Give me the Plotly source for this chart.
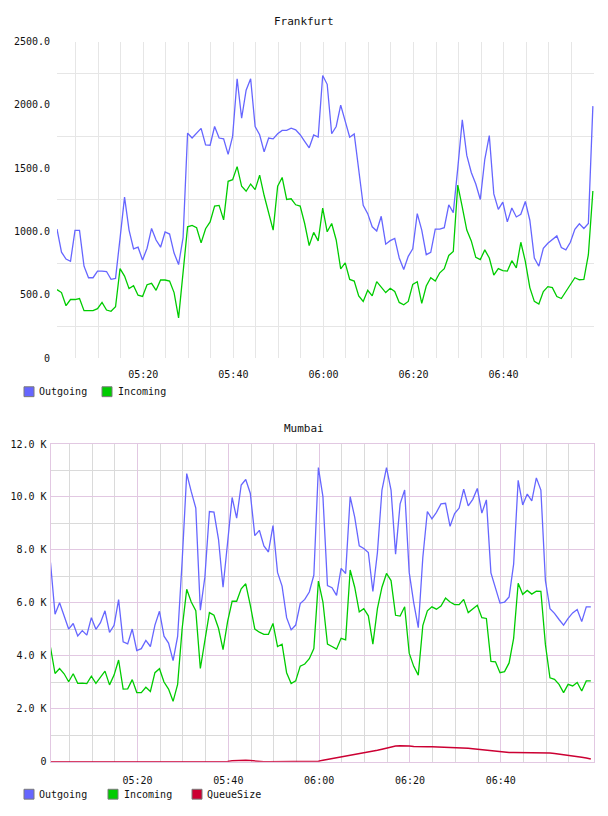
import plotly.graph_objects as go
import pandas as pd

# ---------------- data ----------------
start_time = "2013-05-01 05:00:50"

fra_outgoing = [1019, 837, 783, 765, 1009, 1009, 726, 635, 635, 687, 687, 684, 622, 630, 946, 1271, 1011, 863, 876, 775,
                868, 1024, 933, 876, 996, 980, 830, 739, 952, 1777, 1738, 1777, 1814, 1684, 1681, 1829, 1738, 1731, 1609, 1751,
                2206, 1894, 2115, 2206, 1829, 1764, 1629, 1738, 1731, 1772, 1798, 1798, 1816, 1803, 1764, 1712, 1661, 1762, 1746, 2232,
                2162, 1772, 1829, 1998, 1876, 1744, 1770, 1492, 1206, 1141, 1037, 1004, 1120, 900, 928, 946, 791, 700, 804, 863,
                1141, 1011, 817, 835, 1019, 1019, 1030, 1211, 1149, 1500, 1881, 1601, 1466, 1375, 1253, 1570, 1757, 1297, 1175, 1232,
                1076, 1185, 1115, 1136, 1237, 1089, 791, 726, 868, 907, 933, 965, 874, 855, 915, 1017, 1061, 1024, 1063, 1990]
fra_incoming = [541, 518, 414, 463, 463, 471, 375, 375, 375, 391, 440, 380, 370, 406, 707, 648, 549, 572, 497, 487,
                580, 591, 536, 617, 617, 609, 518, 318, 674, 1037, 1048, 1030, 910, 1022, 1076, 1201, 1206, 1092, 1396, 1409,
                1512, 1357, 1318, 1375, 1331, 1445, 1284, 1141, 1011, 1357, 1427, 1253, 1258, 1211, 1201, 1063, 889, 993, 926, 1185,
                998, 1063, 933, 705, 752, 622, 609, 492, 448, 536, 492, 604, 557, 518, 552, 526, 440, 422, 448, 583,
                604, 432, 570, 635, 609, 674, 707, 811, 842, 1367, 1193, 1011, 926, 796, 778, 855, 791, 655, 707, 692,
                687, 770, 713, 915, 765, 557, 448, 427, 526, 565, 557, 487, 471, 526, 583, 635, 619, 622, 817, 1320]

mum_outgoing = [7520, 5570, 6000, 5530, 5010, 5220, 4750, 4950, 4780, 5440, 5000, 5250, 5700, 4880, 5150, 6120, 4530, 4450, 5010, 4200,
                4270, 4580, 4350, 5160, 5680, 4740, 4480, 3820, 4730, 7600, 10880, 10200, 9580, 5720, 6970, 9450, 9430, 8400, 6590, 8270,
                9980, 9200, 10450, 10660, 10140, 8540, 8740, 8150, 7920, 8920, 7150, 6630, 5440, 4980, 5160, 5970, 6130, 6410, 7050, 11110,
                10010, 6650, 6570, 6280, 7300, 7110, 10010, 9240, 8150, 8050, 7900, 6430, 7900, 10260, 11110, 10260, 7840, 9740, 10260, 7150,
                6000, 5060, 7710, 9450, 9170, 9420, 9740, 9760, 8890, 9370, 9580, 10290, 9660, 9910, 10320, 9390, 9890, 7130, 6530, 5990,
                6030, 6220, 7460, 10630, 9700, 10110, 9850, 10720, 10260, 6840, 5780, 5600, 5370, 5160, 5410, 5620, 5750, 5290, 5850, 5850]
mum_incoming = [4320, 3330, 3520, 3320, 3020, 3320, 2960, 2970, 2950, 3230, 2960, 3200, 3420, 2900, 3270, 3840, 2740, 2750, 3100, 2610,
                2610, 2810, 2650, 3360, 3510, 3010, 2740, 2280, 2920, 5040, 6510, 6030, 5700, 3520, 4600, 5630, 5530, 5040, 4230, 5290,
                6060, 6060, 6530, 6720, 5910, 5010, 4890, 4810, 4810, 5220, 4350, 4440, 3360, 2950, 3050, 3610, 3690, 3890, 4270, 6820,
                6030, 4440, 4350, 4250, 4660, 4600, 7240, 6590, 5660, 5780, 5510, 4440, 5780, 6590, 7110, 6840, 5530, 5500, 5850, 4100,
                3600, 3270, 5140, 5700, 5850, 5760, 5880, 6180, 6030, 5930, 5930, 6130, 5630, 5780, 5910, 5440, 5410, 3790, 3770, 3360,
                3400, 3730, 4660, 6740, 6320, 6470, 6330, 6440, 6430, 4420, 3170, 3110, 2920, 2610, 2920, 2860, 2990, 2670, 3050, 3050]
mum_queue = [0, 0, 0, 0, 0, 0, 0, 0, 0, 0, 0, 0, 0, 0, 0, 0, 0, 0, 0, 0,
             0, 0, 0, 0, 0, 0, 0, 0, 0, 0, 0, 0, 0, 0, 0, 0, 0, 0, 0, 10,
             30, 40, 50, 50, 40, 20, 10, 0, 0, 0, 0, 0, 0, 0, 0, 0, 0, 0, 0, 20,
             50, 80, 110, 140, 170, 200, 230, 260, 290, 320, 350, 390, 430, 470, 510, 550, 590, 600, 600, 590,
             570, 560, 560, 560, 560, 555, 550, 550, 550, 545, 540, 530, 510, 490, 470, 450, 430, 400, 380, 360,
             350, 345, 345, 345, 345, 345, 345, 345, 345, 340, 330, 310, 290, 270, 250, 230, 200, 170, 140, 100]

x_tick_labels = ["05:20", "05:40", "06:00", "06:20", "06:40"]
fra_y_ticks = [0, 500, 1000, 1500, 2000, 2500]
fra_y_labels = ["0", "500.0", "1000.0", "1500.0", "2000.0", "2500.0"]
fra_y_minor = [250, 750, 1250, 1750, 2250]
mum_y_ticks = [0, 2000, 4000, 6000, 8000, 10000, 12000]
mum_y_labels = ["0", "2.0 K", "4.0 K", "6.0 K", "8.0 K", "10.0 K", "12.0 K"]
mum_y_minor = [1000, 3000, 5000, 7000, 9000, 11000]

# ---------------- derived axis values ----------------
times = pd.date_range(start_time, periods=len(fra_outgoing), freq="min")
day = "2013-05-01 "
x_tick_vals = [day + t + ":00" for t in x_tick_labels]
x_minor_vals = list(pd.date_range(day + "05:05", day + "06:55", freq="5min"))

W, H = 608, 816
def fx(p):
    return p / W
def fy(p):
    return 1 - p / H

C_OUT = "#6666ff"
C_IN = "#00cc00"
C_Q = "#cc0033"
GRID_F = "#e6e6e6"
GRID_M = "#dadada"
PURPLE = "#e2c8e2"
FONT = "DejaVu Sans Mono"
TXT = "#111111"

fig = go.Figure()
lw = 1.3
fig.add_trace(go.Scatter(x=times, y=fra_outgoing, mode="lines", line=dict(color=C_OUT, width=lw), xaxis="x", yaxis="y"))
fig.add_trace(go.Scatter(x=times, y=fra_incoming, mode="lines", line=dict(color=C_IN, width=lw), xaxis="x", yaxis="y"))
fig.add_trace(go.Scatter(x=times, y=mum_outgoing, mode="lines", line=dict(color=C_OUT, width=lw), xaxis="x2", yaxis="y2"))
fig.add_trace(go.Scatter(x=times, y=mum_incoming, mode="lines", line=dict(color=C_IN, width=lw), xaxis="x2", yaxis="y2"))
fig.add_trace(go.Scatter(x=times, y=mum_queue, mode="lines", line=dict(color=C_Q, width=1.5), xaxis="x2", yaxis="y2"))

tickfont = dict(family=FONT, size=10, color=TXT)

fig.update_layout(
    width=W, height=H, margin=dict(l=0, r=0, t=0, b=0),
    paper_bgcolor="white", plot_bgcolor="white", showlegend=False,
    xaxis=dict(domain=[fx(57), fx(594)], anchor="y", type="date",
               range=[day + "05:00:50", day + "07:00:05"],
               tickmode="array", tickvals=x_tick_vals, ticktext=x_tick_labels,
               showgrid=True, gridcolor=GRID_F, gridwidth=1, zeroline=False, showline=False,
               ticks="", tickfont=tickfont, ticklabelstandoff=9,
               minor=dict(tickmode="array", tickvals=x_minor_vals, showgrid=True, gridcolor=GRID_F, gridwidth=1, ticks="")),
    yaxis=dict(domain=[fy(358), fy(37)], anchor="x", range=[0, 2500],
               tickmode="array", tickvals=fra_y_ticks, ticktext=fra_y_labels,
               showgrid=False, zeroline=False, showline=False, ticks="", tickfont=tickfont, ticklabelstandoff=6,
               minor=dict(tickmode="array", tickvals=fra_y_minor, showgrid=True, gridcolor=GRID_F, gridwidth=1, ticks="")),
    xaxis2=dict(domain=[fx(50.5), fx(594)], anchor="y2", type="date",
                range=[day + "05:00:50", day + "07:00:32"],
                tickmode="array", tickvals=x_tick_vals, ticktext=x_tick_labels,
                showgrid=True, gridcolor=PURPLE, gridwidth=1, zeroline=False,
                showline=True, mirror=True, linecolor=PURPLE, linewidth=1,
                ticks="", tickfont=tickfont, ticklabelstandoff=9,
                minor=dict(tickmode="array", tickvals=x_minor_vals, showgrid=True, gridcolor=GRID_M, gridwidth=1, ticks="")),
    yaxis2=dict(domain=[fy(767), fy(445)], anchor="x2", range=[0, 12000],
                tickmode="array", tickvals=mum_y_ticks, ticktext=mum_y_labels,
                showgrid=True, gridcolor=PURPLE, gridwidth=1, zeroline=False,
                showline=True, mirror=True, linecolor=PURPLE, linewidth=1,
                ticks="", tickfont=tickfont, ticklabelstandoff=1,
                minor=dict(tickmode="array", tickvals=mum_y_minor, showgrid=True, gridcolor=GRID_M, gridwidth=1, ticks="")),
)

# titles
for title, ypix in [("Frankfurt", 17), ("Mumbai", 429)]:
    fig.add_annotation(text=title, x=0.5, y=fy(ypix), xref="paper", yref="paper",
                       xanchor="center", yanchor="middle", showarrow=False,
                       font=dict(family=FONT, size=11, color=TXT))

# legends (drawn as swatches + labels)
def legend(items, ycenter):
    for name, color, sx, tx in items:
        fig.add_shape(type="rect", xref="paper", yref="paper",
                      x0=fx(sx), x1=fx(sx + 10), y0=fy(ycenter + 5), y1=fy(ycenter - 5),
                      fillcolor=color, line=dict(color="#7a7a7a", width=1))
        fig.add_annotation(text=name, x=fx(tx), y=fy(ycenter), xref="paper", yref="paper",
                           xanchor="left", yanchor="middle", showarrow=False,
                           font=dict(family=FONT, size=10, color=TXT))

legend([("Outgoing", C_OUT, 24, 37), ("Incoming", C_IN, 102, 116)], 392)
legend([("Outgoing", C_OUT, 24, 37), ("Incoming", C_IN, 108, 122), ("QueueSize", C_Q, 192, 205)], 800)

fig.write_html("out.html")
